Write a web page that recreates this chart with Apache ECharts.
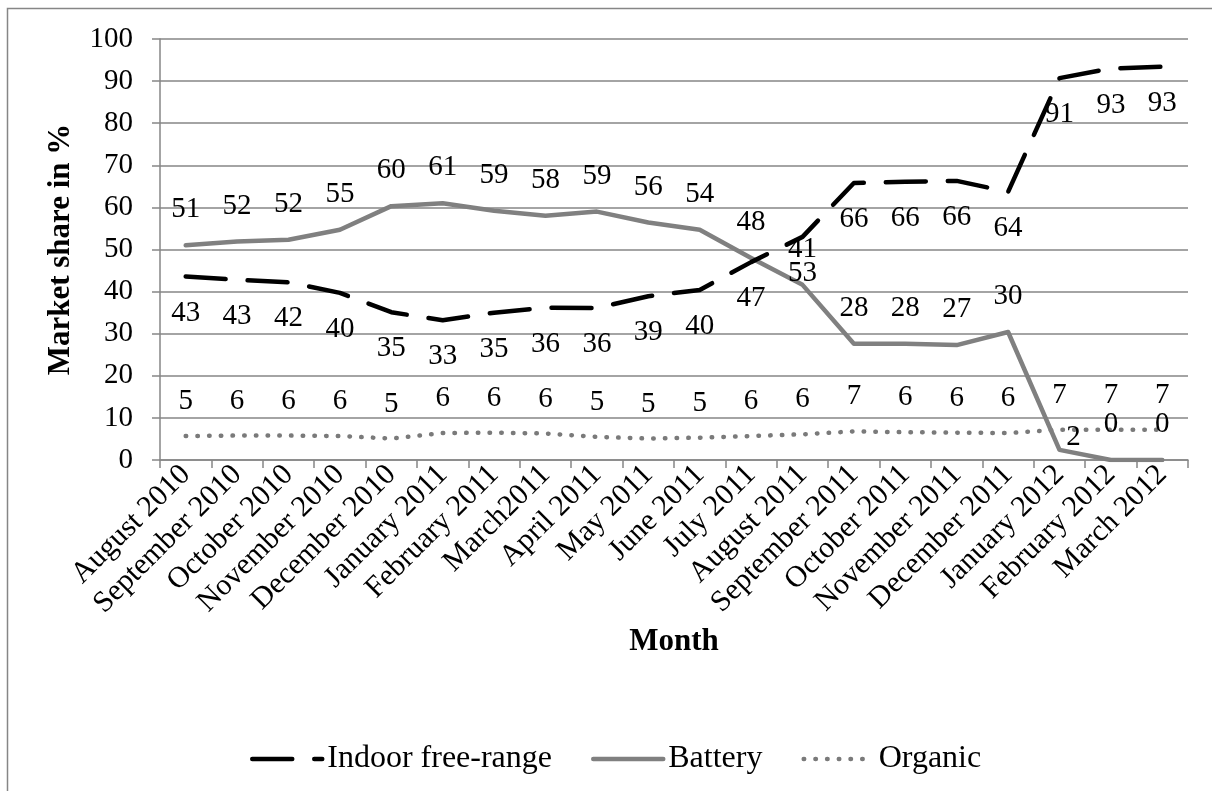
<!DOCTYPE html>
<html>
<head>
<meta charset="utf-8">
<script src="https://cdn.jsdelivr.net/npm/echarts@6/dist/echarts.min.js"></script>
<style>
  html, body { margin: 0; padding: 0; background: #fff; }
  #chart { width: 1212px; height: 791px; }
</style>
</head>
<body>
<div id="chart"></div>
<script>
const months = ['August 2010', 'September 2010', 'October 2010', 'November 2010', 'December 2010',
  'January 2011', 'February 2011', 'March2011', 'April 2011', 'May 2011', 'June 2011', 'July 2011',
  'August 2011', 'September 2011', 'October 2011', 'November 2011', 'December 2011',
  'January 2012', 'February 2012', 'March 2012'];

const indoorValues = [43.6, 42.8, 42.2, 39.7, 35.1, 33.2, 35.0, 36.2, 36.1, 38.9, 40.4, 47.0, 53.0, 65.8, 66.1, 66.3, 63.7, 90.7, 93.0, 93.4];
const indoorLabels = [43, 43, 42, 40, 35, 33, 35, 36, 36, 39, 40, 47, 53, 66, 66, 66, 64, 91, 93, 93];

const batteryValues = [51.0, 51.9, 52.3, 54.7, 60.3, 61.0, 59.2, 58.0, 59.0, 56.4, 54.7, 48.0, 41.6, 27.6, 27.6, 27.3, 30.4, 2.4, 0, 0];
const batteryLabels = [51, 52, 52, 55, 60, 61, 59, 58, 59, 56, 54, 48, 41, 28, 28, 27, 30, 2, 0, 0];

const organicValues = [5.7, 5.8, 5.8, 5.7, 5.1, 6.4, 6.5, 6.3, 5.5, 5.1, 5.3, 5.7, 6.1, 6.8, 6.6, 6.5, 6.4, 7.2, 7.2, 7.2];
const organicLabels = [5, 6, 6, 6, 5, 6, 6, 6, 5, 5, 5, 6, 6, 7, 6, 6, 6, 7, 7, 7];

const yTicks = [0, 10, 20, 30, 40, 50, 60, 70, 80, 90, 100];

const FONT = '"Liberation Serif", "Times New Roman", serif';
const GRID_COLOR = '#868686';

const chart = echarts.init(document.getElementById('chart'), null, { renderer: 'canvas' });

function labelCfg(labels, position, distance) {
  return {
    show: true,
    position: position,
    distance: distance,
    fontFamily: FONT,
    fontSize: 29,
    color: '#000',
    formatter: p => String(labels[p.dataIndex])
  };
}

// Battery data items (one label nudged like in the original)
const batteryData = batteryValues.map((v, i) => {
  if (i === 17) return { value: v, label: { offset: [14, 23] } };
  return v;
});

const option = {
  animation: false,
  backgroundColor: '#fff',
  grid: { left: 160, right: 24, top: 39, bottom: 331, containLabel: false },
  xAxis: {
    type: 'category',
    data: months,
    boundaryGap: true,
    name: 'Month',
    nameLocation: 'middle',
    nameGap: 166,
    nameMoveOverlap: false,
    nameTextStyle: { fontFamily: FONT, fontSize: 31, fontWeight: 'bold', color: '#000' },
    axisLine: { show: true, lineStyle: { color: GRID_COLOR, width: 1.5 } },
    axisTick: { show: true, alignWithLabel: false, length: 8, lineStyle: { color: GRID_COLOR, width: 1.5 } },
    axisLabel: {
      interval: 0,
      rotate: 45,
      margin: 10,
      fontFamily: FONT,
      fontSize: 30,
      color: '#000'
    },
    splitLine: { show: false }
  },
  yAxis: {
    type: 'value',
    min: 0,
    max: 100,
    interval: 10,
    name: 'Market share in %',
    nameLocation: 'middle',
    nameRotate: 90,
    nameGap: 84,
    nameTextStyle: { fontFamily: FONT, fontSize: 31, fontWeight: 'bold', color: '#000' },
    axisLine: { show: true, lineStyle: { color: GRID_COLOR, width: 1.5 } },
    axisTick: { show: true, inside: false, length: 8, lineStyle: { color: GRID_COLOR, width: 1.5 } },
    axisLabel: {
      margin: 27,
      fontFamily: FONT,
      fontSize: 29,
      color: '#000',
      formatter: v => (yTicks.indexOf(v) >= 0 ? String(v) : '')
    },
    splitLine: { show: true, lineStyle: { color: GRID_COLOR, width: 1.5 } }
  },
  legend: {
    show: true,
    left: 245,
    top: 738,
    itemWidth: 70,
    itemHeight: 14,
    itemGap: 39,
    itemStyle: { opacity: 0 },
    lineStyle: { width: 'inherit' },
    textStyle: { fontFamily: FONT, fontSize: 32, color: '#000' },
    data: ['Indoor free-range', 'Battery', 'Organic']
  },
  series: [
    {
      name: 'Indoor free-range',
      type: 'line',
      data: indoorValues,
      symbol: 'circle',
      symbolSize: 0.01,
      showSymbol: true,
      lineStyle: { color: '#000', width: 4.5, type: [40, 22], cap: 'round', join: 'round' },
      itemStyle: { color: '#000' },
      label: labelCfg(indoorLabels, 'bottom', 22),
      z: 3
    },
    {
      name: 'Battery',
      type: 'line',
      data: batteryData,
      symbol: 'circle',
      symbolSize: 0.01,
      showSymbol: true,
      lineStyle: { color: '#808080', width: 4.5, type: 'solid', cap: 'round', join: 'round' },
      itemStyle: { color: '#808080' },
      label: labelCfg(batteryLabels, 'top', 21),
      z: 2
    },
    {
      name: 'Organic',
      type: 'line',
      data: organicValues,
      symbol: 'circle',
      symbolSize: 0.01,
      showSymbol: true,
      lineStyle: { color: '#7a7a7a', width: 4.5, type: [0.5, 11.2], cap: 'round', join: 'round' },
      itemStyle: { color: '#7a7a7a' },
      label: labelCfg(organicLabels, 'top', 20),
      z: 1
    }
  ],
  graphic: [
    {
      type: 'polyline',
      shape: { points: [[7.5, 791], [7.5, 8.5], [1212, 8.5]] },
      style: { stroke: '#868686', lineWidth: 1.5, fill: null },
      silent: true
    }
  ]
};

chart.setOption(option);
</script>
</body>
</html>
